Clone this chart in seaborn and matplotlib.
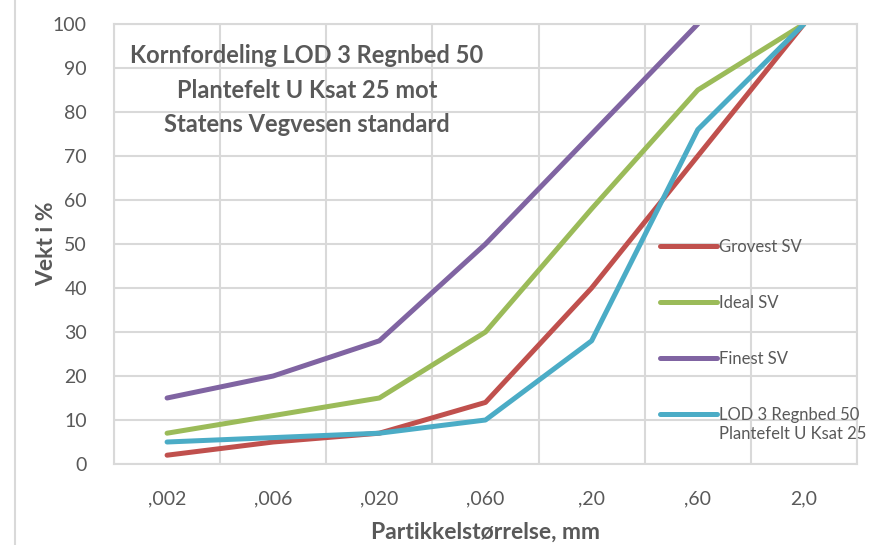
import numpy as np
import pandas as pd
import seaborn as sns
import matplotlib.pyplot as plt
from matplotlib.lines import Line2D

# data
sizes = [",002", ",006", ",020", ",060", ",20", ",60", "2,0"]
grovest = [2, 5, 7, 14, 40, 70, 100]
ideal = [7, 11, 15, 30, 58, 85, 100]
finest = [15, 20, 28, 50, 75, 100, np.nan]
lod3 = [5, 6, 7, 10, 28, 76, 100]

series_names = ["Grovest SV", "Ideal SV", "Finest SV",
                "LOD 3 Regnbed 50\nPlantefelt U Ksat 25"]
colors = ["#C0504D", "#9BBB59", "#8064A2", "#4BACC6"]

rows = []
for name, vals in zip(series_names, [grovest, ideal, finest, lod3]):
    for i, v in enumerate(vals):
        rows.append({"pos": i, "size": sizes[i], "value": v, "series": name})
df = pd.DataFrame(rows).dropna()

sns.set_theme(style="white")
plt.rcParams['font.family'] = ['Lato', 'DejaVu Sans']
grey = "#595959"
gridc = "#D9D9D9"

fig = plt.figure(figsize=(8.7, 5.45), dpi=100)
ax = fig.add_axes([114 / 870, 1 - 464 / 545, (857 - 114) / 870, (464 - 24) / 545])

sns.lineplot(data=df, x="pos", y="value", hue="series", hue_order=series_names,
             palette=colors, linewidth=3.6, ax=ax, legend=False, sort=False)

ax.set_xlim(-0.5, len(sizes) - 0.5)
ax.set_ylim(0, 100)
ax.set_yticks(range(0, 101, 10))
ax.set_xticks(range(len(sizes)))
ax.set_xticklabels(sizes)
ax.set_xticks(np.arange(-0.5, len(sizes), 1), minor=True)

ax.grid(False)
ax.yaxis.grid(True, color=gridc, linewidth=1.5)
ax.xaxis.grid(True, which="minor", color=gridc, linewidth=1.5)
ax.set_axisbelow(True)
for sp in ax.spines.values():
    sp.set_color(gridc)
    sp.set_linewidth(1.5)

ax.tick_params(axis="both", which="both", length=0, labelsize=14, colors=grey)
ax.tick_params(axis="y", pad=19.5)
ax.tick_params(axis="x", pad=19)

ax.set_xlabel("Partikkelstørrelse, mm", fontsize=16.5, fontweight="bold", color=grey, labelpad=10)
ax.set_ylabel("Vekt i %", fontsize=16.5, fontweight="bold", color=grey, labelpad=-3)

ax.text(307 / 870, 1 - 90 / 545,
        "Kornfordeling LOD 3 Regnbed 50\nPlantefelt U Ksat 25 mot\nStatens Vegvesen standard",
        transform=fig.transFigure, ha="center", va="center", fontsize=17, fontweight="bold",
        color=grey, linespacing=1.6)

handles = [Line2D([0], [0], color=c, linewidth=3.6, solid_capstyle="round") for c in colors]
leg = ax.legend(handles, series_names, loc="upper left", bbox_to_anchor=(660 / 870, 1 - 239 / 545),
                bbox_transform=fig.transFigure, frameon=False, fontsize=12, labelspacing=2.4,
                handlelength=3.4, handletextpad=0.15, borderpad=0, borderaxespad=0)
for t in leg.get_texts():
    t.set_color(grey)
# keep the last handle level with the first line of its two-line label
last = leg.legend_handles[3]
last.set_ydata(np.asarray(last.get_ydata()) + 8)

# chart area border on the left
fig.add_artist(Line2D([15 / 870, 15 / 870], [0, 1], color=gridc, linewidth=1.5))

fig.savefig("out.png", dpi=100)
